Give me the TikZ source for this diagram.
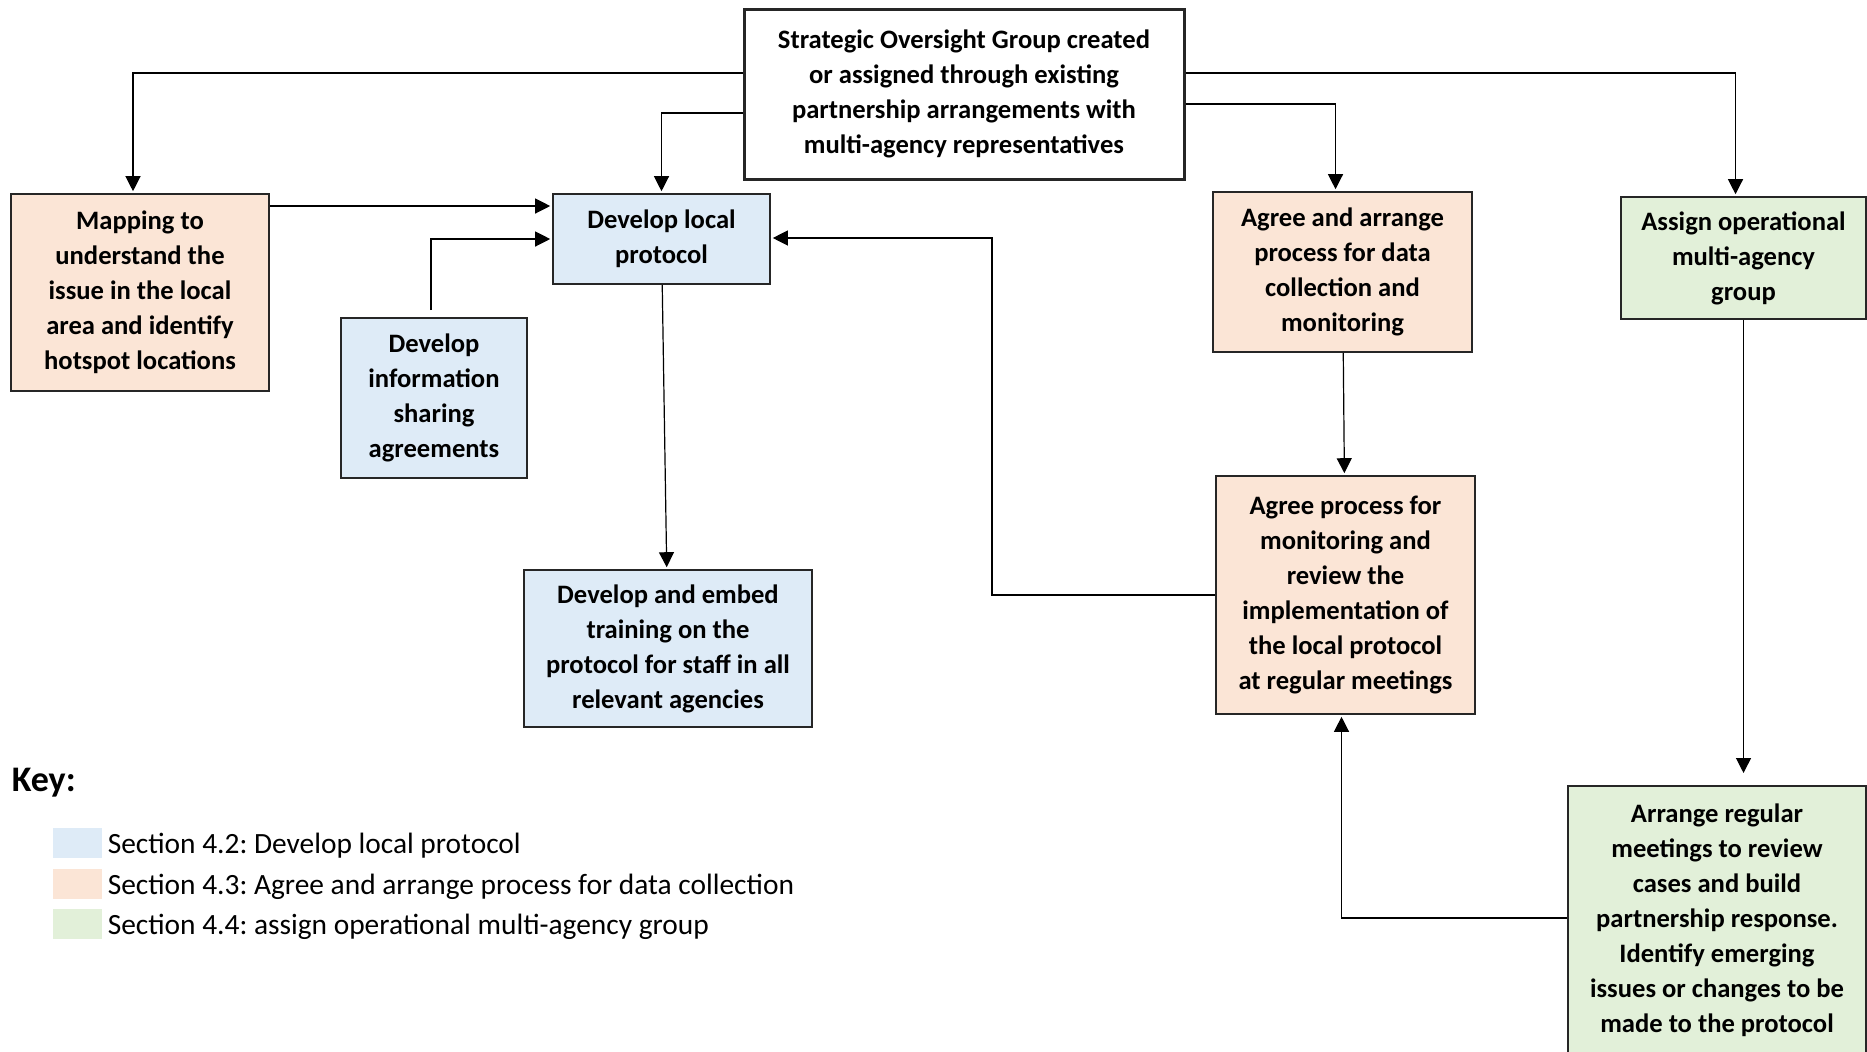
\documentclass[tikz,border=0pt]{standalone}
\usepackage{fontspec}
\setmainfont{Carlito}
\usetikzlibrary{positioning,arrows.meta}
\definecolor{protoblue}{HTML}{DEEBF7}
\definecolor{dataorange}{HTML}{FBE5D6}
\definecolor{groupgreen}{HTML}{E2F0D9}
\tikzset{
  stage/.style={draw=black!85, line width=0.8pt, align=center, inner sep=2pt,
    font=\bfseries\fontsize{13.3}{17.5}\selectfont},
  arr/.style={-{Triangle[width=7.5pt,length=7.5pt]}, line width=0.6pt, shorten >=1pt},
  swatch/.style={minimum width=24.5pt, minimum height=15pt, inner sep=0pt},
  keytext/.style={font=\fontsize{14.7}{17}\selectfont, inner sep=0pt, yshift=-1.5pt},
}
\frenchspacing

\begin{document}
\begin{tikzpicture}[x=0.5pt,y=-0.5pt]
\useasboundingbox (0,0) rectangle (1867,1051);

\node (strat) [stage, line width=1.5pt, minimum width=220pt, minimum height=85pt] at (964,94)
  {Strategic Oversight Group created\\or assigned through existing\\partnership arrangements with\\multi-agency representatives};
\node (map) [stage, fill=dataorange, minimum width=129pt, minimum height=98.5pt] at (140,292.5)
  {Mapping to\\understand the\\issue in the local\\area and identify\\hotspot locations};
\node (proto) [stage, fill=protoblue, minimum width=108.5pt, minimum height=45pt] at (661.5,239)
  {Develop local\\protocol};
\node (share) [stage, fill=protoblue, minimum width=93pt, minimum height=80pt] at (434,398)
  {Develop\\information\\sharing\\agreements};
\node (train) [stage, fill=protoblue, minimum width=144pt, minimum height=78.5pt] at (668,648.5)
  {Develop and embed\\training on the\\protocol for staff in all\\relevant agencies};
\node (arrange) [stage, fill=dataorange, minimum width=129.5pt, minimum height=80pt] at (1342.5,272)
  {Agree and arrange\\process for data\\collection and\\monitoring};
\node (assign) [stage, fill=groupgreen, minimum width=122.5pt, minimum height=61pt] at (1743.5,258)
  {Assign operational\\multi-agency\\group};
\node (monitor) [stage, fill=dataorange, minimum width=129.5pt, minimum height=119pt] at (1345.5,595)
  {Agree process for\\monitoring and\\review the\\implementation of\\the local protocol\\at regular meetings};
\node (meet) [stage, fill=groupgreen, anchor=north, minimum width=149pt, minimum height=134.5pt] at (1717,785)
  {Arrange regular\\meetings to review\\cases and build\\partnership response.\\Identify emerging\\issues or changes to be\\made to the protocol};

\coordinate (bend) at (992,238);

\draw[arr] (strat.west |- 0,73) -| ([xshift=-3.5pt]map.north);
\draw[arr] (strat.west |- 0,113) -| (proto);
\draw[arr] (strat.east |- 0,104) -| ([xshift=-3.5pt]arrange.north);
\draw[arr] (strat.east |- 0,73) -| ([xshift=-4pt]assign.north);
\draw[arr] (map.east |- 0,206) -- (proto.west |- 0,206);
\draw[arr] ([xshift=-1.5pt,yshift=3.5pt]share.north) |- (proto.west);
\draw[arr] (proto) -- (train);
\draw[arr] (monitor.west) -| (bend) -- (proto.east |- bend);
\draw[arr] (arrange) -- (monitor);
\draw[arr, shorten >=6pt] (assign) -- (assign |- meet.north);
\draw[arr] (meet.west |- 0,918) -| ([xshift=-2pt]monitor.south);

\node (key) [anchor=west, inner sep=0pt, font=\bfseries\fontsize{18}{20}\selectfont] at (11.5,783) {Key:};
\node (sec42) [swatch, fill=protoblue] at (77.5,843) {};
\node (sec43) [swatch, fill=dataorange] at (77.5,884) {};
\node (sec44) [swatch, fill=groupgreen] at (77.5,924) {};
\node (sec42txt) [keytext, right=2.5pt of sec42] {Section 4.2: Develop local protocol};
\node (sec43txt) [keytext, right=2.5pt of sec43] {Section 4.3: Agree and arrange process for data collection};
\node (sec44txt) [keytext, right=2.5pt of sec44] {Section 4.4: assign operational multi-agency group};
\end{tikzpicture}
\end{document}
